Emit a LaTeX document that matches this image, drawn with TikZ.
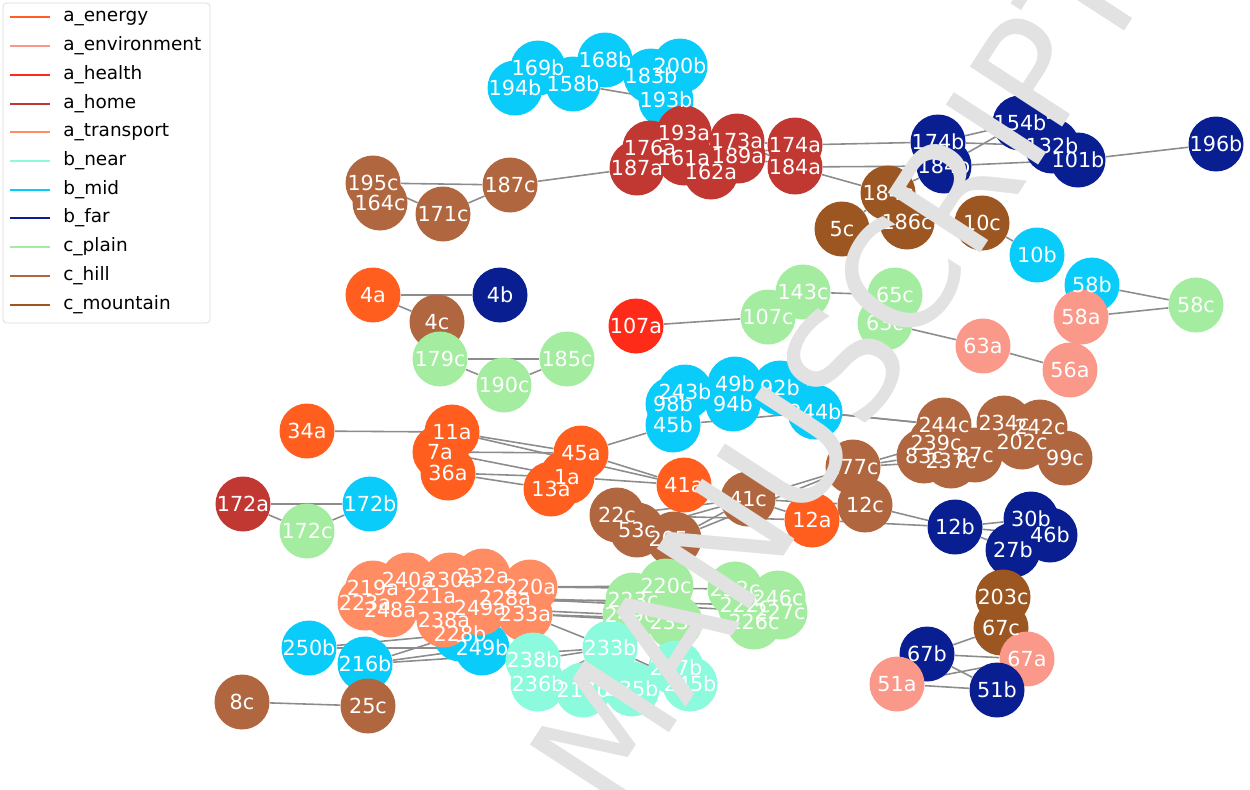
\documentclass[tikz,border=0pt]{standalone}
\usepackage{fontspec}
\setmainfont{DejaVu Sans}
\usepackage{xcolor}
\usetikzlibrary{backgrounds}

\pgfdeclarelayer{front}
\pgfsetlayers{background,main,front}

% circle first, its text on the front layer
\newcommand{\graphNode}[4]{%
  \node[#1] (n#2) at (#3, #4) {};
  \begin{pgfonlayer}{front}
    \node[lbl] at (n#2) {#2};
  \end{pgfonlayer}}

\begin{document}
\begin{tikzpicture}[x = 0.02cm, y = -0.02cm,
  pt/.style = {circle, minimum size = 1.1cm, inner sep = 0pt},
  lbl/.style = {inner sep = 0pt, text = white, font = \fontsize{11.8}{12}\selectfont},
  energyNode/.style = {pt, fill = energyCol},
  environmentNode/.style = {pt, fill = environmentCol},
  healthNode/.style = {pt, fill = healthCol},
  homeNode/.style = {pt, fill = homeCol},
  transportNode/.style = {pt, fill = transportCol},
  nearNode/.style = {pt, fill = nearCol},
  midNode/.style = {pt, fill = midCol},
  farNode/.style = {pt, fill = farCol},
  plainNode/.style = {pt, fill = plainCol},
  hillNode/.style = {pt, fill = hillCol},
  mountainNode/.style = {pt, fill = mountainCol},
  link/.style = {draw = linkGray, line width = 0.9pt},
  key/.style = {line width = 1.5pt},
  keyText/.style = {anchor = mid west, inner sep = 0pt, font = \fontsize{10.5}{12}\selectfont}]

  \definecolor{energyCol}{RGB}{255, 94, 30};
  \definecolor{environmentCol}{RGB}{250, 152, 138};
  \definecolor{healthCol}{RGB}{255, 43, 25};
  \definecolor{homeCol}{RGB}{193, 56, 50};
  \definecolor{transportCol}{RGB}{255, 140, 98};
  \definecolor{nearCol}{RGB}{140, 250, 220};
  \definecolor{midCol}{RGB}{10, 204, 250};
  \definecolor{farCol}{RGB}{8, 30, 145};
  \definecolor{plainCol}{RGB}{163, 236, 160};
  \definecolor{hillCol}{RGB}{176, 103, 64};
  \definecolor{mountainCol}{RGB}{156, 86, 33};
  \definecolor{linkGray}{RGB}{140, 140, 140};
  \definecolor{markGray}{RGB}{226, 226, 226};

  \useasboundingbox (0, 0) rectangle (1250, 789);

  % top: b_mid
  \graphNode{midNode}{168b}{605}{60}
  \graphNode{midNode}{169b}{538}{68}
  \graphNode{midNode}{194b}{515}{88}
  \graphNode{midNode}{158b}{573}{84}
  \graphNode{midNode}{200b}{680}{66}
  \graphNode{midNode}{183b}{651}{76}
  \graphNode{midNode}{193b}{666}{100}

  % a_home
  \graphNode{homeNode}{193a}{684}{133}
  \graphNode{homeNode}{176a}{650}{148}
  \graphNode{homeNode}{187a}{637}{168}
  \graphNode{homeNode}{173a}{737}{141}
  \graphNode{homeNode}{161a}{684}{158}
  \graphNode{homeNode}{162a}{711}{172}
  \graphNode{homeNode}{189a}{738}{156}
  \graphNode{homeNode}{174a}{795}{145}
  \graphNode{homeNode}{184a}{795}{167}
  \graphNode{homeNode}{172a}{243}{504}

  % b_far
  \graphNode{farNode}{174b}{938}{142}
  \graphNode{farNode}{184b}{944}{166}
  \graphNode{farNode}{154b}{1020}{123}
  \graphNode{farNode}{132b}{1052}{146}
  \graphNode{farNode}{101b}{1078}{160}
  \graphNode{farNode}{196b}{1216}{144}
  \graphNode{farNode}{4b}{500}{295}
  \graphNode{farNode}{12b}{955}{527}
  \graphNode{farNode}{30b}{1031}{519}
  \graphNode{farNode}{46b}{1050}{535}
  \graphNode{farNode}{27b}{1013}{550}

  % c_mountain
  \graphNode{mountainNode}{184c}{888}{193}
  \graphNode{mountainNode}{5c}{842}{229}
  \graphNode{mountainNode}{186c}{907}{222}
  \graphNode{mountainNode}{10c}{982}{223}
  \graphNode{mountainNode}{203c}{1003}{597}
  \graphNode{mountainNode}{67c}{1001}{628}

  % right side
  \graphNode{midNode}{10b}{1037}{255}
  \graphNode{midNode}{58b}{1092}{285}
  \graphNode{plainNode}{58c}{1196}{305}
  \graphNode{environmentNode}{58a}{1081}{317}
  \graphNode{environmentNode}{63a}{983}{346}
  \graphNode{environmentNode}{56a}{1070}{370}

  % c_plain, middle
  \graphNode{plainNode}{143c}{803}{292}
  \graphNode{plainNode}{107c}{768}{317}
  \graphNode{plainNode}{65c}{895}{295}
  \graphNode{plainNode}{63c}{885}{323}
  \graphNode{healthNode}{107a}{636}{326}

  % c_hill, left
  \graphNode{hillNode}{195c}{373}{183}
  \graphNode{hillNode}{164c}{380}{203}
  \graphNode{hillNode}{171c}{443}{214}
  \graphNode{hillNode}{187c}{510}{185}

  \graphNode{energyNode}{4a}{373}{295}
  \graphNode{hillNode}{4c}{437}{322}
  \graphNode{plainNode}{179c}{440}{359}
  \graphNode{plainNode}{185c}{567}{359}
  \graphNode{plainNode}{190c}{504}{385}

  % b_mid, middle
  \graphNode{midNode}{45b}{673}{425}
  \graphNode{midNode}{98b}{673}{404}
  \graphNode{midNode}{243b}{685}{392}
  \graphNode{midNode}{92b}{780}{388}
  \graphNode{midNode}{49b}{735}{384}
  \graphNode{midNode}{94b}{733}{404}
  \graphNode{midNode}{244b}{815}{412}

  % c_hill, right
  \graphNode{hillNode}{234c}{1004}{423}
  \graphNode{hillNode}{242c}{1040}{427}
  \graphNode{hillNode}{202c}{1022}{442}
  \graphNode{hillNode}{99c}{1065}{458}
  \graphNode{hillNode}{244c}{944}{425}
  \graphNode{hillNode}{87c}{975}{455}
  \graphNode{hillNode}{83c}{924}{456}
  \graphNode{hillNode}{237c}{951}{461}
  \graphNode{hillNode}{239c}{936}{443}
  \graphNode{hillNode}{177c}{853}{467}

  % a_energy, centre
  \graphNode{energyNode}{34a}{307}{431}
  \graphNode{energyNode}{11a}{452}{432}
  \graphNode{energyNode}{36a}{448}{473}
  \graphNode{energyNode}{7a}{440}{452}
  \graphNode{energyNode}{45a}{581}{453}
  \graphNode{energyNode}{13a}{551}{489}
  \graphNode{energyNode}{1a}{567}{477}
  \graphNode{energyNode}{41a}{684}{485}
  \graphNode{hillNode}{41c}{748}{499}
  \graphNode{hillNode}{12c}{865}{505}
  \graphNode{energyNode}{12a}{812}{520}
  \graphNode{hillNode}{22c}{617}{515}
  \graphNode{hillNode}{53c}{637}{530}
  \graphNode{hillNode}{205c}{674}{539}

  \graphNode{midNode}{172b}{370}{504}
  \graphNode{plainNode}{172c}{307}{531}

  % bottom right
  \graphNode{environmentNode}{67a}{1027}{659}
  \graphNode{farNode}{67b}{927}{654}
  \graphNode{environmentNode}{51a}{897}{684}
  \graphNode{farNode}{51b}{997}{690}

  % b_mid, bottom left
  \graphNode{midNode}{250b}{309}{648}
  \graphNode{midNode}{216b}{365}{664}
  \graphNode{midNode}{228b}{460}{634}
  \graphNode{midNode}{249b}{482}{648}

  % a_transport
  \graphNode{transportNode}{220a}{530}{587}
  \graphNode{transportNode}{233a}{525}{614}
  \graphNode{transportNode}{232a}{483}{576}
  \graphNode{transportNode}{230a}{450}{580}
  \graphNode{transportNode}{240a}{408}{580}
  \graphNode{transportNode}{219a}{373}{588}
  \graphNode{transportNode}{223a}{365}{603}
  \graphNode{transportNode}{248a}{390}{610}
  \graphNode{transportNode}{221a}{430}{596}
  \graphNode{transportNode}{238a}{444}{620}
  \graphNode{transportNode}{249a}{480}{608}
  \graphNode{transportNode}{228a}{505}{598}

  % c_plain, bottom
  \graphNode{plainNode}{220c}{666}{586}
  \graphNode{plainNode}{223c}{633}{600}
  \graphNode{plainNode}{249c}{630}{615}
  \graphNode{plainNode}{233c}{675}{622}
  \graphNode{plainNode}{232c}{735}{589}
  \graphNode{plainNode}{246c}{778}{598}
  \graphNode{plainNode}{222c}{745}{605}
  \graphNode{plainNode}{227c}{780}{612}
  \graphNode{plainNode}{226c}{754}{622}

  % b_near
  \graphNode{nearNode}{233b}{610}{648}
  \graphNode{nearNode}{238b}{533}{660}
  \graphNode{nearNode}{236b}{538}{684}
  \graphNode{nearNode}{235b}{632}{689}
  \graphNode{nearNode}{217b}{583}{690}
  \graphNode{nearNode}{247b}{676}{668}
  \graphNode{nearNode}{245b}{690}{684}

  \graphNode{hillNode}{8c}{242}{702}
  \graphNode{hillNode}{25c}{368}{706}

  \begin{pgfonlayer}{background}
    \draw[link] (n158b) -- (n193b);
    \draw[link] (n158b) -- (n183b);
    \draw[link] (n187a) -- (n187c);
    \draw[link] (n173a) -- (n174a);
    \draw[link] (n189a) -- (n184a);
    \draw[link] (n189a) -- (n174a);
    \draw[link] (n173a) -- (n184a);
    \draw[link] (n174a) -- (n174b);
    \draw[link] (n184a) -- (n184b);
    \draw[link] (n184a) -- (n184c);
    \draw[link] (n174b) -- (n154b);
    \draw[link] (n174b) -- (n132b);
    \draw[link] (n184b) -- (n154b);
    \draw[link] (n184b) -- (n101b);
    \draw[link] (n101b) -- (n196b);
    \draw[link] (n184c) -- (n184b);
    \draw[link] (n184c) -- (n5c);
    \draw[link] (n186c) -- (n10c);
    \draw[link] (n10c) -- (n10b);
    \draw[link] (n58b) -- (n58c);
    \draw[link] (n58a) -- (n58c);
    \draw[link] (n56a) -- (n63a);
    \draw[link] (n63c) -- (n63a);
    \draw[link] (n107a) -- (n107c);
    \draw[link] (n143c) -- (n65c);
    \draw[link] (n195c) -- (n187c);
    \draw[link] (n195c) -- (n171c);
    \draw[link] (n171c) -- (n187c);
    \draw[link] (n4a) -- (n4b);
    \draw[link] (n4a) -- (n4c);
    \draw[link] (n179c) -- (n185c);
    \draw[link] (n179c) -- (n190c);
    \draw[link] (n190c) -- (n185c);
    \draw[link] (n172a) -- (n172b);
    \draw[link] (n172a) -- (n172c);
    \draw[link] (n172c) -- (n172b);
    \draw[link] (n8c) -- (n25c);
    \draw[link] (n34a) -- (n11a);
    \draw[link] (n11a) -- (n45a);
    \draw[link] (n7a) -- (n45a);
    \draw[link] (n7a) -- (n1a);
    \draw[link] (n36a) -- (n13a);
    \draw[link] (n36a) -- (n1a);
    \draw[link] (n11a) -- (n41a);
    \draw[link] (n45a) -- (n41a);
    \draw[link] (n1a) -- (n41a);
    \draw[link] (n45a) -- (n45b);
    \draw[link] (n45b) -- (n244b);
    \draw[link] (n94b) -- (n244c);
    \draw[link] (n244b) -- (n244c);
    \draw[link] (n41a) -- (n41c);
    \draw[link] (n22c) -- (n41c);
    \draw[link] (n53c) -- (n41c);
    \draw[link] (n205c) -- (n41c);
    \draw[link] (n22c) -- (n12a);
    \draw[link] (n205c) -- (n177c);
    \draw[link] (n41c) -- (n177c);
    \draw[link] (n41c) -- (n12a);
    \draw[link] (n41c) -- (n12c);
    \draw[link] (n12a) -- (n12c);
    \draw[link] (n12a) -- (n12b);
    \draw[link] (n12c) -- (n12b);
    \draw[link] (n177c) -- (n83c);
    \draw[link] (n177c) -- (n239c);
    \draw[link] (n177c) -- (n237c);
    \draw[link] (n12b) -- (n30b);
    \draw[link] (n12b) -- (n46b);
    \draw[link] (n12b) -- (n27b);
    \draw[link] (n203c) -- (n27b);
    \draw[link] (n67b) -- (n67c);
    \draw[link] (n67b) -- (n67a);
    \draw[link] (n67b) -- (n51b);
    \draw[link] (n51a) -- (n51b);
    \draw[link] (n51a) -- (n67a);
    \draw[link] (n220a) -- (n220c);
    \draw[link] (n220a) -- (n232c);
    \draw[link] (n228a) -- (n222c);
    \draw[link] (n233a) -- (n233c);
    \draw[link] (n233a) -- (n226c);
    \draw[link] (n249a) -- (n249c);
    \draw[link] (n223a) -- (n223c);
    \draw[link] (n228a) -- (n227c);
    \draw[link] (n233a) -- (n233b);
    \draw[link] (n238a) -- (n238b);
    \draw[link] (n250b) -- (n228b);
    \draw[link] (n250b) -- (n249b);
    \draw[link] (n216b) -- (n228b);
    \draw[link] (n216b) -- (n249b);
    \draw[link] (n216b) -- (n233b);
    \draw[link] (n238b) -- (n233b);
    \draw[link] (n236b) -- (n233b);
    \draw[link] (n233b) -- (n245b);
  \end{pgfonlayer}

  % legend
  \draw[draw = black!15, fill = white, rounded corners = 2pt] (3, 3) rectangle (210, 323);
  \draw[key, energyCol] (10, 17) -- (50, 17);
  \node[keyText] (keyEnergy) at (63, 17) {a\_energy};
  \draw[key, environmentCol] (10, 46) -- (50, 46);
  \node[keyText] (keyEnvironment) at (63, 46) {a\_environment};
  \draw[key, healthCol] (10, 75) -- (50, 75);
  \node[keyText] (keyHealth) at (63, 75) {a\_health};
  \draw[key, homeCol] (10, 104) -- (50, 104);
  \node[keyText] (keyHome) at (63, 104) {a\_home};
  \draw[key, transportCol] (10, 132) -- (50, 132);
  \node[keyText] (keyTransport) at (63, 132) {a\_transport};
  \draw[key, nearCol] (10, 161) -- (50, 161);
  \node[keyText] (keyNear) at (63, 161) {b\_near};
  \draw[key, midCol] (10, 190) -- (50, 190);
  \node[keyText] (keyMid) at (63, 190) {b\_mid};
  \draw[key, farCol] (10, 218) -- (50, 218);
  \node[keyText] (keyFar) at (63, 218) {b\_far};
  \draw[key, plainCol] (10, 247) -- (50, 247);
  \node[keyText] (keyPlain) at (63, 247) {c\_plain};
  \draw[key, hillCol] (10, 276) -- (50, 276);
  \node[keyText] (keyHill) at (63, 276) {c\_hill};
  \draw[key, mountainCol] (10, 305) -- (50, 305);
  \node[keyText] (keyMountain) at (63, 305) {c\_mountain};

  % watermark, over everything
  \begin{pgfonlayer}{front}
    \node[rotate = 57, text = markGray, inner sep = 0pt,
      font = \fontsize{86}{86}\selectfont] (mark) at (838, 372) {MANUSCRIPT};
  \end{pgfonlayer}
\end{tikzpicture}
\end{document}
